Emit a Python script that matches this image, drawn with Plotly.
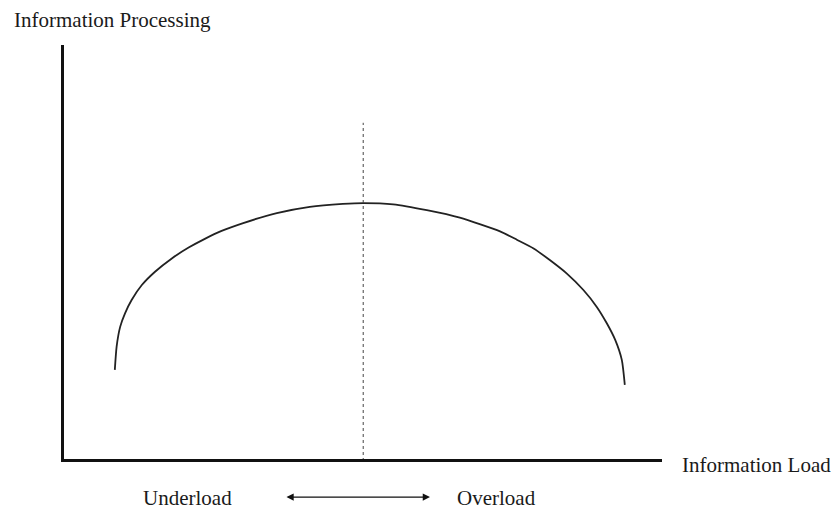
import plotly.graph_objects as go

# Inverted-U: information processing vs information load (values on 0-100 scales)
load = [8.8, 9.1, 9.7, 10.5, 11.6, 13.3, 15.5, 18.3, 21.1, 23.8, 26.6, 30.2,
        35.8, 41.3, 46.8, 50.2, 55.2, 60.8, 66.3, 73.0, 75.8, 78.6, 81.3,
        84.1, 86.9, 89.1, 90.8, 92.2, 93.3, 93.8]
processing = [21.9, 27.5, 32.3, 35.5, 38.7, 42.3, 45.5, 48.7, 51.3, 53.4, 55.3, 57.2,
              59.6, 61.1, 61.8, 62.0, 61.7, 60.3, 58.5, 55.2, 53.2, 51.1, 48.3,
              45.1, 41.1, 37.1, 33.1, 29.1, 24.3, 18.3]

optimum_load = 50.2
divider_top = 81.3

font = "Liberation Serif, Times New Roman, serif"

fig = go.Figure()
fig.add_trace(go.Scatter(
    x=load, y=processing, mode="lines",
    line=dict(color="#222", width=1.8, shape="spline", smoothing=0.6),
    hoverinfo="skip",
))
fig.add_trace(go.Scatter(
    x=[optimum_load, optimum_load], y=[0, divider_top], mode="lines",
    line=dict(color="#444", width=1, dash="dot"),
    hoverinfo="skip",
))

fig.update_layout(
    width=838, height=510,
    margin=dict(l=64, r=176, t=45, b=51),
    paper_bgcolor="white", plot_bgcolor="white",
    showlegend=False,
    font=dict(family=font, size=21, color="#1a1a1a"),
    xaxis=dict(range=[0.33, 100], showline=True, linewidth=3, linecolor="#111",
               showgrid=False, zeroline=False, showticklabels=False, ticks=""),
    yaxis=dict(range=[0.48, 100], showline=True, linewidth=3, linecolor="#111",
               showgrid=False, zeroline=False, showticklabels=False, ticks=""),
)

fig.add_annotation(text="Information Processing", xref="paper", yref="paper",
                   x=-0.087, y=1.06, xanchor="left", yanchor="middle", showarrow=False)
fig.add_annotation(text="Information Load", xref="paper", yref="paper",
                   x=1.03, y=-0.0145, xanchor="left", yanchor="middle", showarrow=False)
fig.add_annotation(text="Underload", xref="paper", yref="paper",
                   x=0.207, y=-0.094, xanchor="center", yanchor="middle", showarrow=False,
                   borderpad=0)
fig.add_annotation(text="Overload", xref="paper", yref="paper",
                   x=0.724, y=-0.094, xanchor="center", yanchor="middle", showarrow=False,
                   borderpad=0)
# double-headed arrow between the labels
fig.add_annotation(text="", xref="paper", yref="paper",
                   x=0.612, y=-0.092, ax=-145, ay=0,
                   showarrow=True, arrowside="end+start", arrowhead=2,
                   arrowsize=1.2, arrowwidth=1.2, arrowcolor="#111")

fig.write_html("out.html", config={"displayModeBar": False},
               post_script="document.body.style.margin='0';")
